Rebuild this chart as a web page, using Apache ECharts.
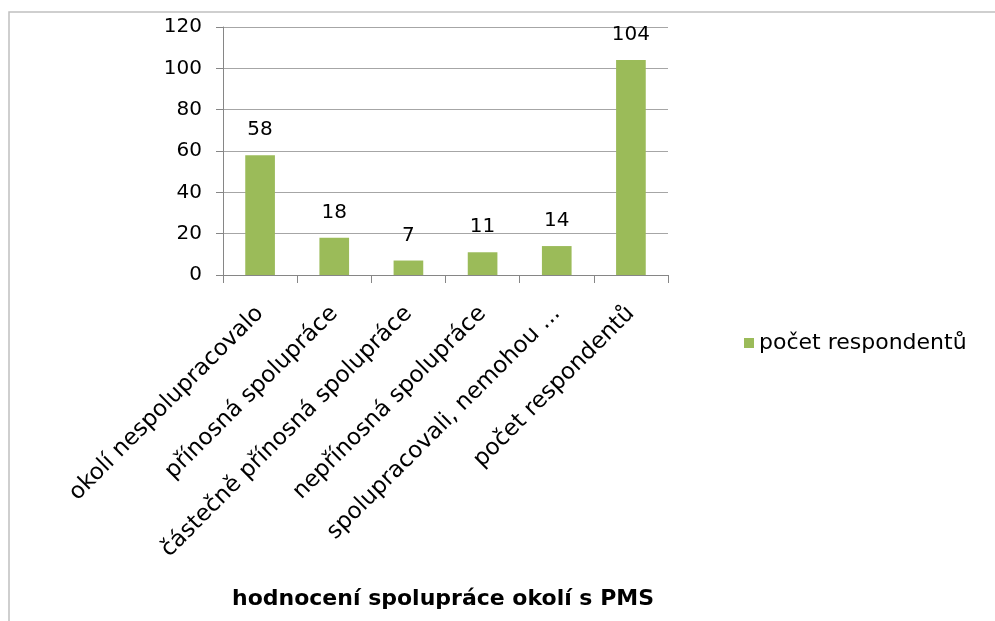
<!DOCTYPE html>
<html>
<head>
<meta charset="utf-8">
<script src="https://cdn.jsdelivr.net/npm/echarts@6/dist/echarts.min.js"></script>
<style>
html,body{margin:0;padding:0;background:#fff;}
#chart{width:995px;height:621px;}
</style>
</head>
<body>
<div id="chart"></div>
<script>
const categories = ["okolí nespolupracovalo", "přínosná spolupráce", "částečně přínosná spolupráce", "nepřínosná spolupráce", "spolupracovali, nemohou ...", "počet respondentů"];
const values = [58, 18, 7, 11, 14, 104];
const seriesName = "počet respondentů";
const axisTitle = "hodnocení spolupráce okolí s PMS";

const chart = echarts.init(document.getElementById('chart'));
const font = 'DejaVu Sans';
chart.setOption({
  animation: false,
  backgroundColor: '#fff',
  textStyle: { fontFamily: font },
  grid: { left: 223, right: 327, top: 27, bottom: 346, containLabel: false },
  legend: {
    data: [seriesName],
    left: 739, top: 327,
    icon: 'rect', itemWidth: 10, itemHeight: 10, itemGap: 6,
    textStyle: { fontFamily: font, fontSize: 22, color: '#000' }
  },
  graphic: [
    { type: 'rect', z: -1, shape: { x: 9, y: 12, width: 1100, height: 800 },
      style: { fill: 'none', stroke: '#c0c0c0', lineWidth: 1.5 } },
    { type: 'text', x: 443, y: 599,
      style: { text: axisTitle, fontFamily: font, fontWeight: 'bold', fontSize: 22, fill: '#000',
               textAlign: 'center', textVerticalAlign: 'middle' } }
  ],
  xAxis: {
    type: 'category',
    data: categories,
    axisLine: { lineStyle: { color: '#868686', width: 1 } },
    axisTick: { show: true, length: 8, lineStyle: { color: '#868686' } },
    axisLabel: { interval: 0, rotate: 45, margin: 35, fontFamily: font, fontSize: 23, color: '#000' }
  },
  yAxis: {
    type: 'value',
    min: 0, max: 120, interval: 20,
    axisLine: { show: true, lineStyle: { color: '#868686', width: 1 } },
    axisTick: { show: true, length: 7, lineStyle: { color: '#868686' } },
    axisLabel: { margin: 21, fontFamily: font, fontSize: 20, color: '#000' },
    splitLine: { lineStyle: { color: '#a6a6a6', width: 1 } }
  },
  series: [{
    name: seriesName,
    type: 'bar',
    data: values,
    barWidth: '40%',
    itemStyle: { color: '#9BBB59' },
    label: { show: true, position: 'top', distance: 15, fontFamily: font, fontSize: 20, color: '#000' }
  }]
});
</script>
</body>
</html>
